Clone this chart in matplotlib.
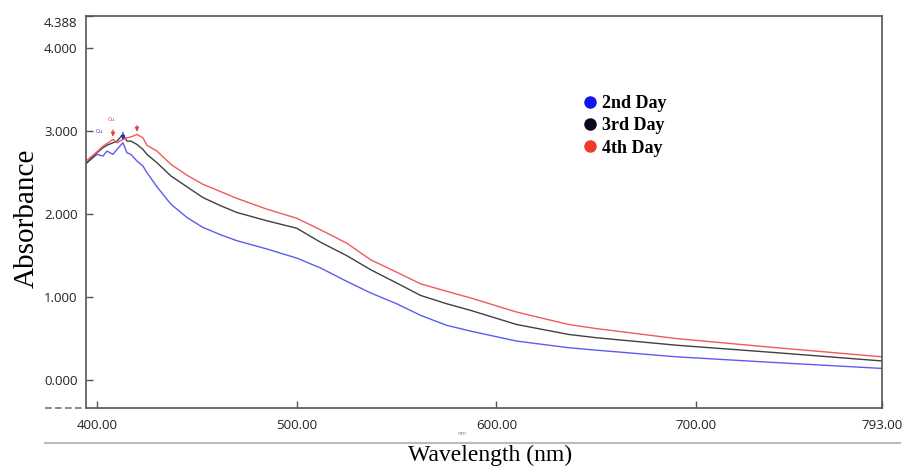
import matplotlib
matplotlib.use("Agg")
import matplotlib.pyplot as plt
import matplotlib.transforms as mtransforms
from matplotlib.lines import Line2D

# wavelength grid (nm)
wavelength = [395, 400, 403, 405, 408, 410, 413, 415, 417, 420, 423, 425, 430,
              437, 445, 453, 462, 470, 485, 500, 512, 525, 537, 550, 562, 575,
              587, 610, 636, 650, 690, 740, 793]

day2 = [2.62, 2.72, 2.70, 2.76, 2.72, 2.78, 2.86, 2.74, 2.72, 2.64, 2.58, 2.50, 2.33,
        2.12, 1.96, 1.84, 1.75, 1.68, 1.58, 1.47, 1.35, 1.19, 1.05, 0.92, 0.78, 0.66,
        0.59, 0.47, 0.39, 0.36, 0.28, 0.21, 0.14]
day3 = [2.62, 2.74, 2.80, 2.83, 2.86, 2.88, 2.96, 2.88, 2.88, 2.84, 2.78, 2.72, 2.62,
        2.46, 2.33, 2.20, 2.10, 2.02, 1.92, 1.83, 1.66, 1.50, 1.33, 1.17, 1.02, 0.92,
        0.84, 0.67, 0.55, 0.51, 0.42, 0.33, 0.23]
day4 = [2.65, 2.75, 2.82, 2.85, 2.90, 2.86, 2.90, 2.92, 2.93, 2.96, 2.92, 2.83, 2.76,
        2.60, 2.47, 2.36, 2.27, 2.19, 2.06, 1.95, 1.81, 1.65, 1.45, 1.30, 1.16, 1.07,
        0.99, 0.82, 0.67, 0.62, 0.50, 0.39, 0.28]

x_ticks = [400, 500, 600, 700, 793]
x_labels = ["400.00", "500.00", "600.00", "700.00", "793.00"]
y_ticks = [0, 1, 2, 3, 4, 4.388]
y_labels = ["0.000", "1.000", "2.000", "3.000", "4.000", "4.388"]

legend_names = ["2nd Day", "3rd Day", "4th Day"]
legend_colors = ["#1515ee", "#0a0a1a", "#f03a28"]


def main():
    fig = plt.figure(figsize=(9.04, 4.66), dpi=100)
    ax = fig.add_axes([86 / 904, 58 / 466, 796 / 904, 392 / 466])

    ax.plot(wavelength, day2, color="#5c5cf0", lw=1.0)
    ax.plot(wavelength, day3, color="#404040", lw=1.0)
    ax.plot(wavelength, day4, color="#f05a5a", lw=1.0)

    # little peak markers
    ax.annotate("", xy=(408, 2.90), xytext=(408, 3.05),
                arrowprops=dict(arrowstyle="-|>", color="#e04040", lw=0.8, mutation_scale=6))
    ax.annotate("", xy=(420, 2.96), xytext=(420, 3.10),
                arrowprops=dict(arrowstyle="-|>", color="#e04040", lw=0.8, mutation_scale=6))
    ax.annotate("", xy=(413, 2.86), xytext=(413, 3.02),
                arrowprops=dict(arrowstyle="-|>", color="#2030c0", lw=0.8, mutation_scale=6))
    ax.text(407, 3.12, "Cu", color="#e04040", fontsize=4, ha="center")
    ax.text(401, 2.98, "Cu", color="#4040d0", fontsize=4, ha="center")

    ax.set_xlim(394.5, 793)
    ax.set_ylim(-0.337, 4.388)
    ax.set_xticks(x_ticks)
    ax.set_xticklabels(x_labels)
    ax.set_yticks(y_ticks)
    ax.set_yticklabels(y_labels)
    ax.tick_params(direction="in", length=5, width=1, color="#555555",
                   labelsize=9.5, labelcolor="#222222")
    ax.tick_params(axis="x", pad=8)
    ax.tick_params(axis="y", pad=6)
    for lab in ax.get_xticklabels() + ax.get_yticklabels():
        lab.set_fontfamily("Open Sans")
    # the top label sits a little below the top edge
    top_lab = ax.get_yticklabels()[-1]
    top_lab.set_transform(top_lab.get_transform() +
                          mtransforms.ScaledTranslation(0, -6 / 100, fig.dpi_scale_trans))
    for s in ax.spines.values():
        s.set_color("#555555")
        s.set_linewidth(1.2)

    fig.text(27 / 904, 1 - 218 / 466, "Absorbance", fontfamily="Liberation Serif",
             fontsize=21, rotation=90, ha="center", va="center")

    handles = [Line2D([], [], ls="none", marker="o", markersize=8,
                      markerfacecolor=c, markeredgecolor=c) for c in legend_colors]
    ax.legend(handles, legend_names, loc="upper left", bbox_to_anchor=(0.601, 0.84),
              frameon=False, handletextpad=0.2, labelspacing=0.3, handlelength=1.0,
              prop={"family": "Liberation Serif", "weight": "bold", "size": 13})

    # extra decorations outside the axes
    fig.add_artist(Line2D([45 / 904, 86 / 904], [58 / 466, 58 / 466], color="#777777",
                          lw=1.2, ls=(0, (4, 2))))
    fig.add_artist(Line2D([45 / 904, 900 / 904], [23 / 466, 23 / 466], color="#bbbbbb", lw=1.5))
    fig.text(462 / 904, 31 / 466, "nm", fontsize=4, color="#888888", ha="center")
    fig.text(490 / 904, 0 / 466, "Wavelength (nm)", fontfamily="Liberation Serif",
             fontsize=17, ha="center", va="bottom")

    fig.savefig("out.png", dpi=100, facecolor="white")


if __name__ == "__main__":
    main()
